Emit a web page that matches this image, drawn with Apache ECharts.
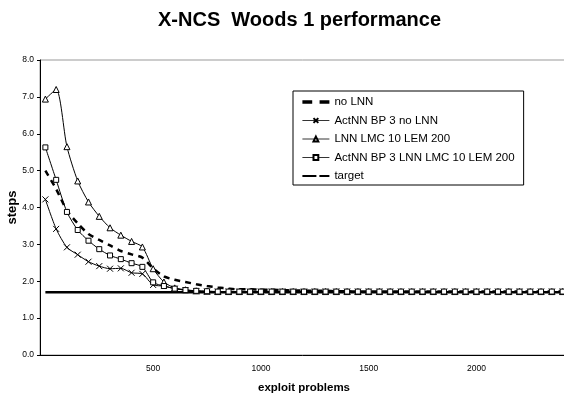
<!DOCTYPE html>
<html>
<head>
<meta charset="utf-8">
<script src="https://cdn.jsdelivr.net/npm/echarts@6/dist/echarts.min.js"></script>
<style>
  html, body { margin: 0; padding: 0; background: #fff; }
  #chart { width: 564px; height: 400px; }
</style>
</head>
<body>
<div id="chart"></div>
<script>
// exploit problems 0, 50, ... 2400
var problems = [];
for (var p = 0; p <= 2400; p += 50) problems.push(p);

var tickLabels = [500, 1000, 1500, 2000];

var noLNN = [5.0, 4.5, 3.92, 3.57, 3.28, 3.12, 2.97, 2.82, 2.73, 2.64,
  2.35, 2.13, 2.04, 1.98, 1.92, 1.87, 1.83, 1.8, 1.78, 1.78,
  1.77, 1.77, 1.76, 1.75, 1.75, 1.74, 1.74, 1.73, 1.73, 1.72,
  1.72, 1.72, 1.72, 1.72, 1.72, 1.72, 1.72, 1.72, 1.72, 1.72,
  1.72, 1.72, 1.72, 1.72, 1.72, 1.72, 1.72, 1.72, 1.72];

var actBpNoLNN = [4.22, 3.42, 2.92, 2.72, 2.53, 2.41, 2.34, 2.35, 2.23, 2.2,
  1.9, 1.87, 1.8, 1.76, 1.73, 1.72, 1.72, 1.72, 1.72, 1.72,
  1.72, 1.72, 1.72, 1.72, 1.72, 1.72, 1.72, 1.72, 1.72, 1.72,
  1.72, 1.72, 1.72, 1.72, 1.72, 1.72, 1.72, 1.72, 1.72, 1.72,
  1.72, 1.72, 1.72, 1.72, 1.72, 1.72, 1.72, 1.72, 1.72];

var lnnLmc = [6.94, 7.2, 5.65, 4.72, 4.15, 3.76, 3.45, 3.25, 3.08, 2.93,
  2.34, 1.98, 1.82, 1.77, 1.74, 1.73, 1.72, 1.72, 1.72, 1.72,
  1.72, 1.72, 1.72, 1.72, 1.72, 1.72, 1.72, 1.72, 1.72, 1.72,
  1.72, 1.72, 1.72, 1.72, 1.72, 1.72, 1.72, 1.72, 1.72, 1.72,
  1.72, 1.72, 1.72, 1.72, 1.72, 1.72, 1.72, 1.72, 1.72];

var actBpLnnLmc = [5.63, 4.75, 3.88, 3.39, 3.1, 2.87, 2.7, 2.6, 2.49, 2.39,
  1.97, 1.87, 1.8, 1.76, 1.74, 1.73, 1.72, 1.72, 1.72, 1.72,
  1.72, 1.72, 1.72, 1.72, 1.72, 1.72, 1.72, 1.72, 1.72, 1.72,
  1.72, 1.72, 1.72, 1.72, 1.72, 1.72, 1.72, 1.72, 1.72, 1.72,
  1.72, 1.72, 1.72, 1.72, 1.72, 1.72, 1.72, 1.72, 1.72];

var target = [1.7, 1.7, 1.7, 1.7, 1.7, 1.7, 1.7, 1.7, 1.7, 1.7,
  1.7, 1.7, 1.7, 1.7, 1.7, 1.7, 1.7, 1.7, 1.7, 1.7,
  1.7, 1.7, 1.7, 1.7, 1.7, 1.7, 1.7, 1.7, 1.7, 1.7,
  1.7, 1.7, 1.7, 1.7, 1.7, 1.7, 1.7, 1.7, 1.7, 1.7,
  1.7, 1.7, 1.7, 1.7, 1.7, 1.7, 1.7, 1.7, 1.7];

var font = "'Liberation Sans', Arial, sans-serif";
var crossPath = "path://M0,0L10,10M10,0L0,10";

var chart = echarts.init(document.getElementById("chart"));

function isTick(idx, value) {
  return tickLabels.indexOf(Number(value)) >= 0;
}

chart.setOption({
  animation: false,
  backgroundColor: "#fff",
  title: {
    text: "X-NCS  Woods 1 performance",
    left: 153,
    top: 5,
    textStyle: { fontFamily: font, fontSize: 20, fontWeight: "bold", color: "#000" }
  },
  legend: {
    orient: "vertical",
    left: 293,
    top: 91,
    padding: [5, 9, 3, 9],
    itemGap: 6.5,
    itemWidth: 27,
    itemHeight: 6,
    borderColor: "#000",
    borderWidth: 1,
    lineStyle: { width: 0.8 },
    textStyle: { fontFamily: font, fontSize: 11.5, color: "#000" },
    data: [
      { name: "no LNN", icon: "path://M0,0H8V3H0Z M14,0H22V3H14Z" },
      { name: "ActNN BP 3 no LNN" },
      { name: "LNN LMC 10 LEM 200" },
      { name: "ActNN BP 3 LNN LMC 10 LEM 200" },
      { name: "target", icon: "path://M0,0H14V2H0Z M17,0H27V2H17Z" }
    ]
  },
  grid: {
    left: 40,
    top: 60,
    width: 528,
    bottom: 45,
    containLabel: false,
    outerBoundsMode: "none",
    show: true,
    borderColor: "#999",
    borderWidth: 1
  },
  xAxis: {
    type: "category",
    data: problems,
    boundaryGap: true,
    name: "exploit problems",
    nameLocation: "middle",
    nameGap: 27,
    nameMoveOverlap: false,
    nameTextStyle: { fontFamily: font, fontSize: 11.5, fontWeight: "bold", color: "#000" },
    axisLine: { lineStyle: { color: "#000", width: 1 } },
    axisTick: { interval: isTick, length: 3, lineStyle: { color: "#000" } },
    axisLabel: { interval: isTick, margin: 9, fontFamily: font, fontSize: 8.5, color: "#000" },
    splitLine: { show: false }
  },
  yAxis: {
    type: "value",
    min: 0,
    max: 8,
    interval: 1,
    name: "steps",
    nameLocation: "middle",
    nameGap: 21,
    nameMoveOverlap: false,
    nameTextStyle: { fontFamily: font, fontSize: 13, fontWeight: "bold", color: "#000" },
    axisLine: { show: true, lineStyle: { color: "#000", width: 1 } },
    axisTick: { show: true, length: 3, lineStyle: { color: "#000" } },
    axisLabel: {
      margin: 6,
      fontFamily: font,
      fontSize: 8.5,
      color: "#000",
      formatter: function (v) { return v.toFixed(1); }
    },
    splitLine: { show: false }
  },
  series: [
    {
      name: "no LNN",
      type: "line",
      data: noLNN,
      smooth: 0.25,
      symbol: "none",
      lineStyle: { color: "#000", width: 2.5, type: [6, 5] },
      itemStyle: { color: "#000" }
    },
    {
      name: "ActNN BP 3 no LNN",
      type: "line",
      data: actBpNoLNN,
      smooth: 0.25,
      symbol: crossPath,
      symbolSize: 6,
      lineStyle: { color: "#000", width: 1 },
      itemStyle: { color: "transparent", borderColor: "#000", borderWidth: 1 }
    },
    {
      name: "LNN LMC 10 LEM 200",
      type: "line",
      data: lnnLmc,
      smooth: 0.25,
      symbol: "triangle",
      symbolSize: 6,
      lineStyle: { color: "#000", width: 1 },
      itemStyle: { color: "#fff", borderColor: "#000", borderWidth: 1 }
    },
    {
      name: "ActNN BP 3 LNN LMC 10 LEM 200",
      type: "line",
      data: actBpLnnLmc,
      smooth: 0.25,
      symbol: "rect",
      symbolSize: 5,
      lineStyle: { color: "#000", width: 1 },
      itemStyle: { color: "#fff", borderColor: "#000", borderWidth: 1 }
    },
    {
      name: "target",
      type: "line",
      data: target,
      symbol: "none",
      lineStyle: { color: "#000", width: 2.5 },
      itemStyle: { color: "#000" }
    }
  ]
});
</script>
</body>
</html>
